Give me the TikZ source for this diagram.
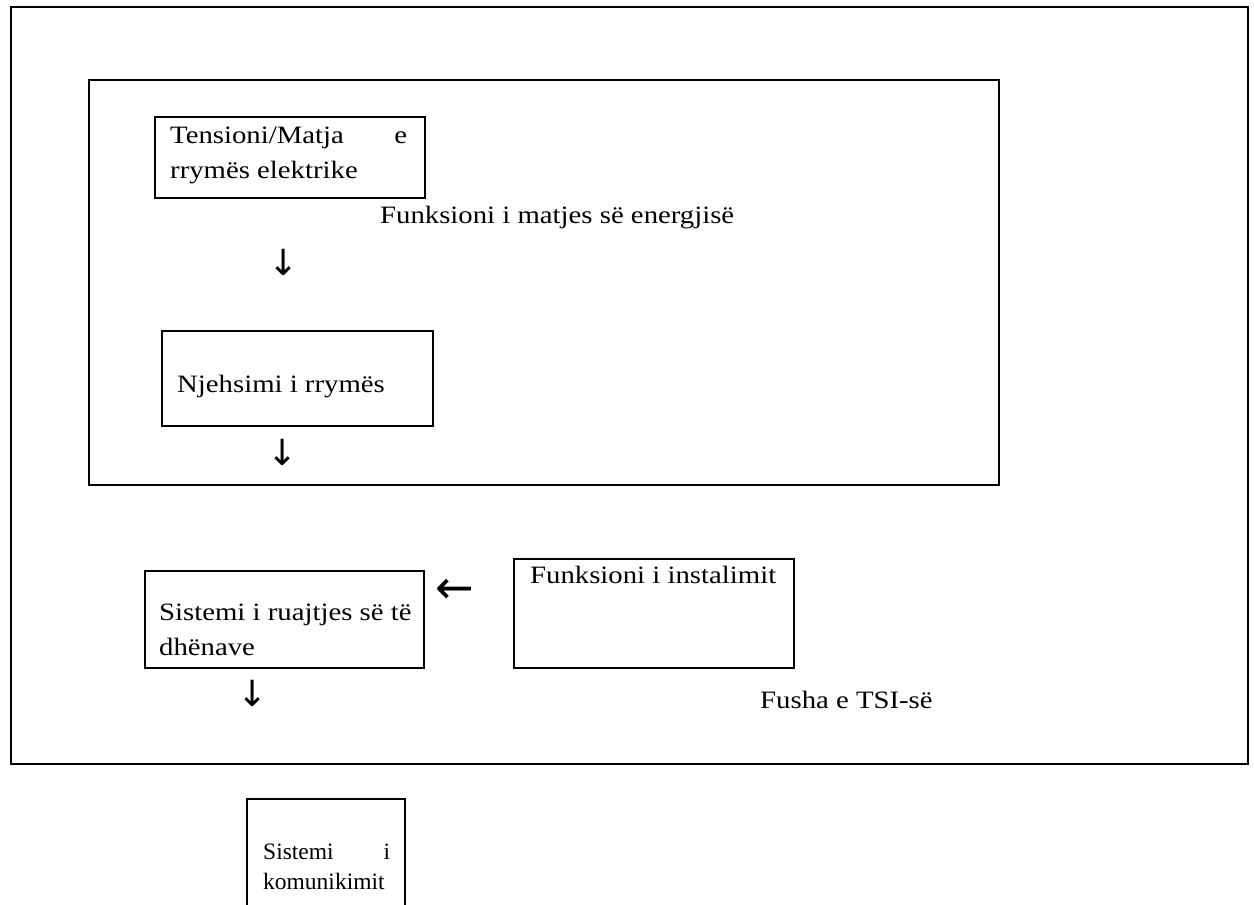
\documentclass[tikz,border=0pt]{standalone}
\usepackage{fontspec}
\setmainfont{Liberation Serif}[FakeStretch=1.15]
\newfontfamily\plainserif{Liberation Serif}
\newfontfamily\arrowfont{DejaVu Sans}
\begin{document}
\begin{tikzpicture}[x=1pt,y=-1pt,
  box/.style={draw,line width=2pt,inner sep=0pt,anchor=north west},
  openbox/.style={inner sep=0pt,anchor=north west},
  txt/.style={font=\fontsize{25}{30}\selectfont,inner sep=0pt,anchor=base west},
  smalltxt/.style={font=\plainserif\fontsize{23.5}{28}\selectfont,inner sep=0pt,anchor=base west},
  glyph/.style={font=\arrowfont\fontsize{36}{36}\selectfont,inner sep=0pt,anchor=center},
  hglyph/.style={font=\arrowfont\fontsize{46}{46}\selectfont,inner sep=0pt,anchor=center}]
\useasboundingbox (0,0) rectangle (1254,905);
% frames
\node[box,minimum width=1237pt,minimum height=757pt] (outer) at (10,6) {};
\node[box,minimum width=910pt,minimum height=405pt] (inner) at (88,79) {};
% boxes
\node[box,minimum width=270pt,minimum height=81pt] (b1) at (154,116) {};
\node[box,minimum width=271pt,minimum height=95pt] (b2) at (161,330) {};
\node[box,minimum width=279pt,minimum height=97pt] (b3) at (144,570) {};
\node[box,minimum width=280pt,minimum height=109pt] (b4) at (513,558) {};
\node[openbox,minimum width=158pt,minimum height=130pt] (b5) at (247,799) {};
\draw[line width=2pt] (b5.south west) -- (b5.north west) -- (b5.north east) -- (b5.south east);
% texts
\node[txt] (t1a) at (170,143) {\hbox to 237pt{Tensioni/Matja\hfill e}};
\node[txt] (t1b) at (170,178) {rrymës elektrike};
\node[txt] (t0) at (380,223) {Funksioni i matjes së energjisë};
\node[txt] (t2) at (177,392) {Njehsimi i rrymës};
\node[txt] (t3a) at (159,620) {Sistemi i ruajtjes së të};
\node[txt] (t3b) at (159,655) {dhënave};
\node[txt] (t4) at (530,583) {Funksioni i instalimit};
\node[txt] (t6) at (760,708) {Fusha e TSI-së};
\node[smalltxt] (t5a) at (263,859) {\hbox to 127pt{Sistemi\hfill i}};
\node[smalltxt] (t5b) at (263,889) {komunikimit};
% arrow glyphs
\node[glyph] (a1) at (284,262) {↓};
\node[glyph] (a2) at (283,452) {↓};
\node[glyph] (a3) at (253,693) {↓};
\node[hglyph] (a4) at (455,591) {←};
\end{tikzpicture}
\end{document}
